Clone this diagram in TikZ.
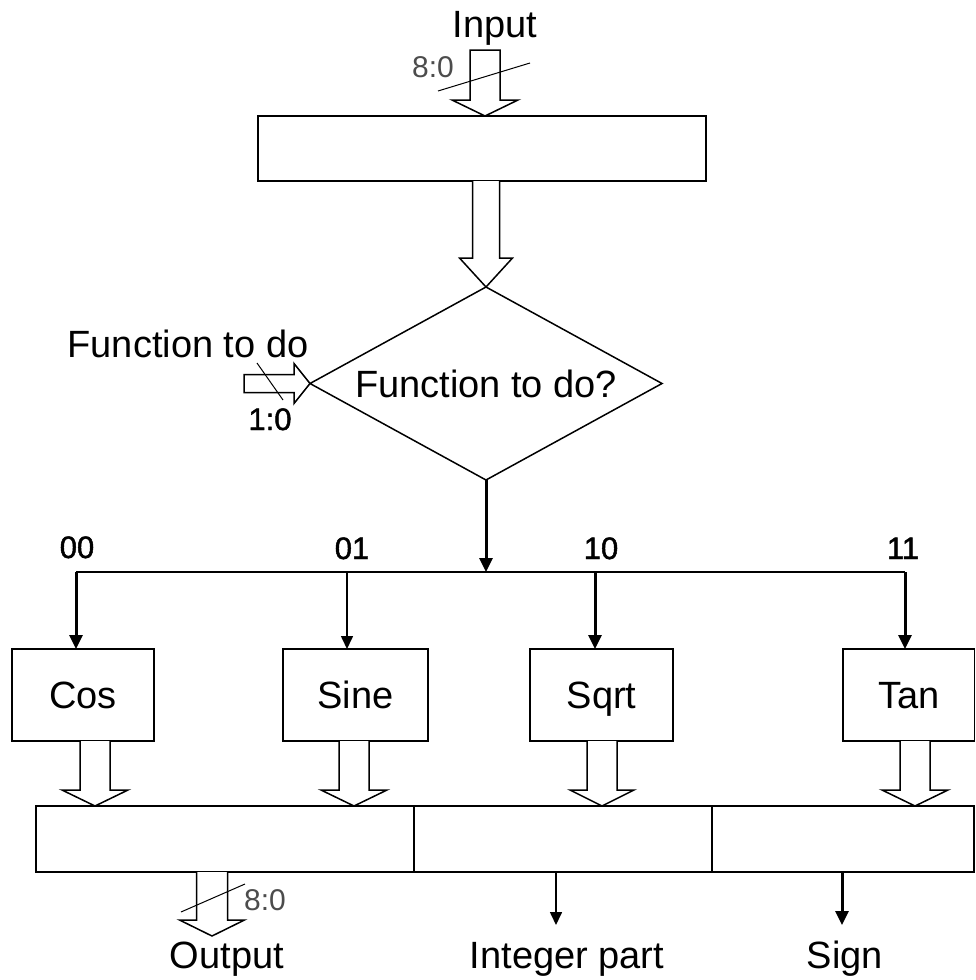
\documentclass[tikz,border=0pt]{standalone}
\usepackage{fontspec}
\setmainfont{Liberation Sans}
\newfontfamily\heavyfont{Liberation Sans}[FakeBold=1.5]
\usetikzlibrary{arrows.meta,shapes.geometric,calc}

% Hollow block arrow pointing down: #1 start (its y is used), #2 tip,
% #3 shaft half width, #4 head half width, #5 head length, #6 path ending
\newcommand{\bigarrowdown}[6]{%
  \draw[fat] let \p1=(#1), \p2=(#2) in
    (\x2-#3,\y1) -- (\x2-#3,\y2+#5) -- (\x2-#4,\y2+#5) -- (\p2)
    -- (\x2+#4,\y2+#5) -- (\x2+#3,\y2+#5) -- (\x2+#3,\y1) #6;}

\begin{document}
\begin{tikzpicture}[x=1pt,y=-1pt,
  every node/.style={inner sep=0pt, outer sep=0pt},
  lbl/.style={font=\fontsize{38}{40}\selectfont},
  bits/.style={font=\heavyfont\fontsize{31}{33}\selectfont},
  buswidth/.style={font=\fontsize{30}{32}\selectfont, text=black!70},
  box/.style={draw, line width=1.5pt, lbl, text height=27pt, text depth=0pt},
  fat/.style={draw, line width=1.5pt, fill=white, line join=miter},
  sig/.style={line width=1.6pt, -{Triangle[width=12pt,length=13pt]}},
  sigthick/.style={line width=3pt, -{Triangle[width=13pt,length=14pt]}},
  busline/.style={line width=2pt},
  slash/.style={line width=1pt}]

\useasboundingbox (0,0) rectangle (976,980);

% input latch and decision
\node[box, minimum width=448pt, minimum height=65pt] (latch) at (482,148.5) {};
\node[diamond, aspect=1.82, draw, line width=1.5pt, lbl, text height=27pt,
      text depth=0pt, minimum width=352pt, minimum height=193pt]
      (dec) at (486,383.5) {Function to do?};

% function blocks
\node[box, minimum width=142pt, minimum height=92pt] (cos)  at (83,695)    {Cos};
\node[box, minimum width=145pt, minimum height=92pt] (sine) at (355.5,695) {Sine};
\node[box, minimum width=143pt, minimum height=92pt] (sqrt) at (601.5,695) {Sqrt};
\node[box, minimum width=131.5pt, minimum height=92pt] (tan) at (908.75,695) {Tan};

% output register in three fields
\node[box, minimum width=378pt, minimum height=66pt] (regA) at (225,839) {};
\node[box, minimum width=298pt, minimum height=66pt] (regB) at (563,839) {};
\node[box, minimum width=262pt, minimum height=66pt] (regC) at (843,839) {};

% labels
\node[lbl, anchor=base] (inlbl) at (495,37) {Input};
\node[buswidth, anchor=base] (inw) at (433,77) {8:0};
\node[lbl, anchor=base] (fnlbl) at (188,357) {Function to do};
\node[bits, anchor=base] (fnw) at (270,430) {1:0};
\node[bits, anchor=base] (l00) at (77,558) {00};
\node[bits, anchor=base] (l01) at (352,559) {01};
\node[bits, anchor=base] (l10) at (601,559) {10};
\node[bits, anchor=base] (l11) at (903,559) {11};
\node[buswidth, anchor=base] (outw) at (265,910) {8:0};
\node[lbl, anchor=base] (outlbl) at (227,968) {Output};
\node[lbl, anchor=base] (intlbl) at (567,968) {Integer part};
\node[lbl, anchor=base] (signlbl) at (845,968) {Sign};

% bus taps and free ends
\coordinate (inTop) at (485,50);
\coordinate (b00) at (76,572);
\coordinate (b01) at (347,572);
\coordinate (b10) at (595,572);
\coordinate (b11) at (905,572);
\coordinate (outtip) at (212,936);
\coordinate (inttip) at (556,925);
\coordinate (signtip) at (842,925);

% block arrows
\bigarrowdown{inTop}{latch.north -| inTop}{15pt}{33pt}{16pt}{-- cycle}
\bigarrowdown{latch.south}{dec.north}{13.5pt}{26.5pt}{29pt}{}
\bigarrowdown{cos.south}{$(regA.north west)+(59,0)$}{15pt}{33pt}{16pt}{}
\bigarrowdown{sine.south}{$(regA.north west)+(318,0)$}{15pt}{33pt}{16pt}{}
\bigarrowdown{sqrt.south}{$(regB.north west)+(188,0)$}{15pt}{32pt}{16pt}{}
\bigarrowdown{tan.south}{$(regC.north west)+(203,0)$}{15pt}{33pt}{16pt}{}
\bigarrowdown{regA.south}{outtip}{15.5pt}{32.5pt}{16pt}{}

% function select input arrow
\draw[fat] let \p1=(dec.west) in
  (\x1-66pt,\y1+9pt) -- (\x1-16pt,\y1+9pt) -- (\x1-16pt,\y1+20pt) -- (\p1)
  -- (\x1-16pt,\y1-20pt) -- (\x1-16pt,\y1-9pt) -- (\x1-66pt,\y1-9pt) -- cycle;

% bus width slashes
\draw[slash] (438,91) -- (530,63);
\draw[slash] (257,363) -- (283,400);
\draw[slash] (181,912) -- (245,884);

% select bus
\draw[busline] (b00) -- (b11);
\draw[sigthick] (dec.south) -- (dec.south |- b00);
\draw[sigthick] (b00) -- (b00 |- cos.north);
\draw[sig] (b01) -- (b01 |- sine.north);
\draw[sigthick] (b10) -- (b10 |- sqrt.north);
\draw[sigthick] (b11) -- (b11 |- tan.north);

% single outputs
\draw[sig] (regB.south -| inttip) -- (inttip);
\draw[sigthick] (regC.south -| signtip) -- (signtip);

\end{tikzpicture}
\end{document}
